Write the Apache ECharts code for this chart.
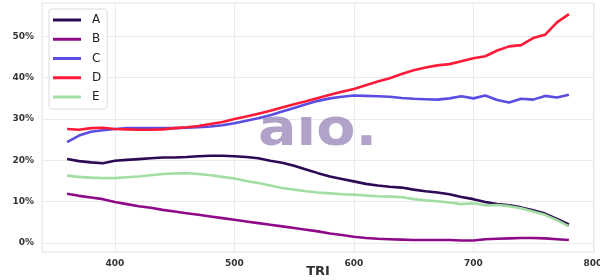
<!DOCTYPE html>
<html>
<head>
<meta charset="utf-8">
<script src="https://cdn.jsdelivr.net/npm/echarts@6/dist/echarts.min.js"></script>
<style>html,body{margin:0;padding:0;background:#fff}#c{width:600px;height:280px}</style>
</head>
<body>
<div id="c"></div>
<script>
const tri = [360,370,380,390,400,410,420,430,440,450,460,470,480,490,500,510,520,530,540,550,560,570,580,590,600,610,620,630,640,650,660,670,680,690,700,710,720,730,740,750,760,770,780];
const seriesA = [20.3,19.8,19.5,19.3,19.9,20.1,20.3,20.5,20.7,20.7,20.8,21.0,21.1,21.1,21.0,20.8,20.5,19.9,19.4,18.7,17.8,16.9,16.1,15.5,14.9,14.3,13.9,13.6,13.4,12.9,12.5,12.2,11.8,11.1,10.6,9.9,9.4,9.1,8.6,7.9,7.1,5.8,4.5];
const seriesB = [11.9,11.4,11.0,10.6,9.9,9.4,8.9,8.5,8.0,7.6,7.2,6.8,6.4,6.0,5.6,5.2,4.8,4.4,4.0,3.6,3.2,2.8,2.3,1.9,1.5,1.2,1.0,0.9,0.8,0.7,0.7,0.7,0.7,0.6,0.6,0.9,1.0,1.1,1.2,1.2,1.1,0.9,0.7];
const seriesC = [24.4,26.0,26.9,27.3,27.6,27.8,27.8,27.8,27.8,27.8,27.9,28.0,28.2,28.5,29.0,29.6,30.2,30.9,31.8,32.7,33.6,34.4,35.0,35.4,35.7,35.6,35.5,35.4,35.1,34.9,34.8,34.7,35.0,35.5,35.0,35.7,34.6,34.0,34.9,34.7,35.6,35.2,35.9];
const seriesD = [27.6,27.4,27.8,27.9,27.6,27.5,27.4,27.4,27.5,27.8,28.0,28.3,28.8,29.3,30.0,30.6,31.3,32.0,32.8,33.6,34.3,35.1,35.9,36.6,37.3,38.2,39.1,39.9,40.9,41.8,42.5,43.0,43.3,44.0,44.7,45.2,46.6,47.6,47.9,49.6,50.4,53.4,55.4];
const seriesE = [16.3,16.0,15.8,15.7,15.7,15.9,16.1,16.4,16.7,16.8,16.9,16.7,16.4,16.0,15.6,15.0,14.5,13.9,13.3,12.9,12.5,12.2,12.0,11.8,11.7,11.5,11.3,11.2,11.1,10.6,10.3,10.1,9.8,9.4,9.6,9.1,9.2,8.9,8.4,7.6,6.8,5.5,4.0];
const xTicks = [400,500,600,700,800];
const yTicks = [0,10,20,30,40,50];
const names = ['A','B','C','D','E'];
const xTitle = 'TRI';
const colors = ['#2c0a55','#8e0a88','#5b4ce2','#ff1a38','#a2dea2'];
const allSeries = [seriesA,seriesB,seriesC,seriesD,seriesE];

const chart = echarts.init(document.getElementById('c'), null, {renderer:'canvas'});
const labelStyle = {color:'#333', fontSize:9, fontWeight:'bold', fontFamily:'DejaVu Sans'};
chart.setOption({
  animation:false,
  backgroundColor:'#fff',
  grid:{left:42, top:3, right:6, bottom:28, show:true, borderColor:'#e2e2e2', borderWidth:1, containLabel:false, outerBoundsMode:'none'},
  legend:{
    left:49, top:9, orient:'vertical',
    backgroundColor:'#fff', borderColor:'#dcdcdc', borderWidth:1, borderRadius:3,
    padding:[4,6,5,4], itemGap:5.25, itemWidth:28, itemHeight:3, icon:'rect',
    textStyle:{fontSize:12, color:'#222', fontFamily:'DejaVu Sans', lineHeight:14, padding:[0,0,0,6]},
    data:names
  },
  xAxis:{
    type:'value', min:339, max:801,
    axisLine:{show:false}, axisTick:{show:false, customValues:xTicks},
    axisLabel:Object.assign({customValues:xTicks, margin:7}, labelStyle),
    splitLine:{show:true, lineStyle:{color:'#ebebeb', width:1}}
  },
  yAxis:{
    type:'value', min:-2.2, max:58.1,
    axisLine:{show:false}, axisTick:{show:false, customValues:yTicks},
    axisLabel:Object.assign({customValues:yTicks, margin:8, formatter:v=>Math.round(v)+'%'}, labelStyle),
    splitLine:{show:true, lineStyle:{color:'#ebebeb', width:1}}
  },
  graphic:[{
    type:'text', x:258, y:105, scaleX:1.1, z:100, silent:true,
    style:{text:'aıo.', fontSize:52, fontWeight:'bold', fontFamily:'DejaVu Sans', fill:'rgba(125,100,165,0.6)'}
  },{
    type:'text', x:318, y:272, silent:true,
    style:{text:xTitle, fontSize:13, fontWeight:'bold', fontFamily:'DejaVu Sans', fill:'#333', align:'center', verticalAlign:'middle'}
  }],
  series: names.map((n,i)=>({
    name:n, type:'line', showSymbol:false, symbol:'none', smooth:false,
    data: tri.map((t,j)=>[t, allSeries[i][j]]),
    lineStyle:{color:colors[i], width:2.6}, itemStyle:{color:colors[i]}, z:2
  }))
});
</script>
</body>
</html>
